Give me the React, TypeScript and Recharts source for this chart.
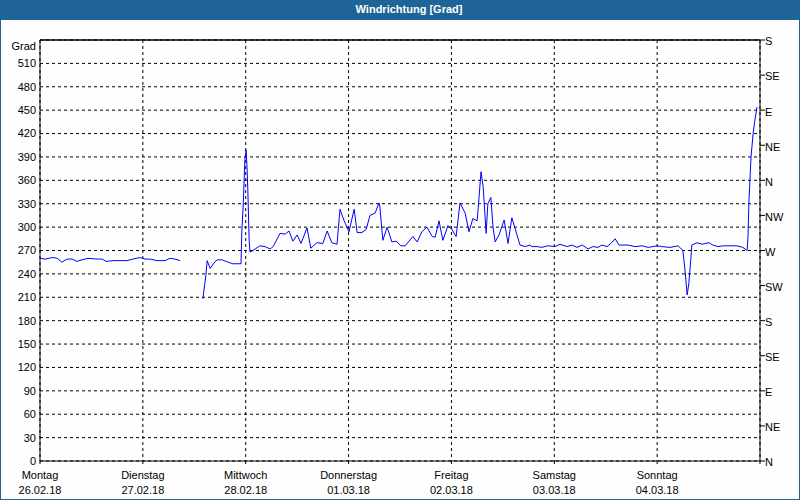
import React from "react";
import { LineChart, Line, XAxis, YAxis, CartesianGrid, ReferenceLine } from "recharts";

// hours since Monday 00:00
const hours: number[] = [
  0, 1.2, 3.0, 4.0, 5.1, 6.3, 7.5, 8.6, 9.8, 11.2, 13.3, 14.5, 15.4, 17.0, 20.3, 21.7, 23.3, 24.5, 25.7, 27.3, 29.2, 30.3, 31.5, 32.7,
  35.0,
  38.0, 38.7, 39.0, 39.7, 40.6, 41.3, 42.5, 43.9, 45.0, 46.9, 47.1, 47.4, 47.8, 48.1, 48.3, 48.5, 48.8, 49.0, 49.7, 51.3, 52.5, 53.7, 54.4,
  56.0, 57.2, 58.1, 59.0, 60.0, 60.9, 62.3, 63.2, 64.6, 66.0, 67.0, 68.1, 69.3, 70.0, 70.9, 72.1, 73.3, 74.0, 75.1, 76.1, 77.0, 78.2,
  79.1, 79.3, 80.0, 81.0, 82.1, 83.1, 84.2, 85.2, 87.0, 88.0, 89.1, 90.3, 91.5, 92.2, 93.1, 94.0, 95.2, 96.1, 97.1, 98.0, 99.2, 100.1,
  101.0, 102.0, 102.4, 102.9, 103.4, 104.1, 104.5, 105.2, 105.7, 106.2, 107.1, 108.3, 109.2, 110.1, 111.3, 112.0, 113.2, 114.3, 114.8,
  116.0, 117.1, 118.5, 120.2, 121.3, 123.0, 124.1, 125.3, 126.5, 127.9, 129.0, 130.2, 131.1, 132.3, 133.2, 134.2, 135.1, 137.2, 138.8,
  140.5, 141.9, 143.0, 144.0, 145.1, 147.0, 148.9, 150.0, 150.5, 151.0, 151.4, 151.9, 152.1, 153.3, 154.5, 155.2, 156.1, 157.0, 158.2,
  159.4, 162.6, 164.0, 165.0, 165.2, 165.4, 165.9, 166.4, 166.8, 167.3,
];

// wind direction in degrees (null = no data)
const degrees: (number | null)[] = [
  260, 259, 261, 260, 255, 259, 259, 256, 258, 260, 259, 259, 256, 257, 257, 259, 261, 259, 259, 257, 257, 260, 259, 257,
  null,
  208, 238, 257, 247, 254, 258, 258, 255, 253, 253, 296, 326, 386, 399, 377, 347, 283, 268, 270, 276, 275, 272, 275,
  292, 291, 295, 282, 290, 279, 299, 273, 280, 279, 295, 280, 278, 323, 309, 294, 323, 293, 293, 297, 315, 318,
  331, 326, 283, 300, 281, 282, 276, 276, 288, 281, 294, 300, 288, 287, 308, 283, 302, 297, 288, 331, 318, 294,
  311, 308, 335, 371, 352, 292, 330, 338, 300, 281, 290, 309, 279, 312, 290, 277, 275, 277, 275,
  275, 274, 276, 275, 278, 275, 277, 274, 277, 272, 275, 274, 277, 275, 279, 285, 277, 277, 275,
  276, 274, 275, 276, 275, 274, 276, 270, 245, 213, 228, 262, 277, 280, 278, 279, 280, 277, 275,
  276, 276, 274, 270, 288, 330, 390, 420, 437, 454,
];

const dayNames: string[] = ["Montag", "Dienstag", "Mittwoch", "Donnerstag", "Freitag", "Samstag", "Sonntag"];
const dayDates: string[] = ["26.02.18", "27.02.18", "28.02.18", "01.03.18", "02.03.18", "03.03.18", "04.03.18"];
const xTicks: number[] = [0, 24, 48, 72, 96, 120, 144, 168];
const leftTicks: number[] = [0, 30, 60, 90, 120, 150, 180, 210, 240, 270, 300, 330, 360, 390, 420, 450, 480, 510, 540];
const rightTicks: number[] = [0, 45, 90, 135, 180, 225, 270, 315, 360, 405, 450, 495, 540];
const directions: string[] = ["N", "NE", "E", "SE", "S", "SW", "W", "NW", "N", "NE", "E", "SE", "S"];

const data = hours.map((h, i) => ({ h, v: degrees[i] }));

const FONT = "'Liberation Sans', Arial, sans-serif";

const XTick = (props: any) => {
  const { x, y, payload } = props;
  const idx = Math.round(payload.value / 24);
  if (idx >= dayNames.length) return null;
  return (
    <g>
      <text x={x} y={y + 15} textAnchor="middle" fontSize={11} fontFamily={FONT} fill="#000">
        {dayNames[idx]}
      </text>
      <text x={x} y={y + 30} textAnchor="middle" fontSize={11} fontFamily={FONT} fill="#000">
        {dayDates[idx]}
      </text>
    </g>
  );
};

const LeftTick = (props: any) => {
  const { x, y, payload } = props;
  const label = payload.value === 540 ? "Grad" : String(payload.value);
  return (
    <text x={x} y={payload.value === 540 ? y + 6 : y} dy="0.355em" textAnchor="end" fontSize={11} fontFamily={FONT} fill="#000">
      {label}
    </text>
  );
};

const RightTick = (props: any) => {
  const { x, y, payload } = props;
  const idx = rightTicks.indexOf(Number(payload.value));
  return (
    <text x={x} y={y + 1.5} dy="0.355em" textAnchor="start" fontSize={11} fontFamily={FONT} fill="#000">
      {idx >= 0 ? directions[idx] : ""}
    </text>
  );
};

export default function App() {
  return (
    <div style={{ position: "absolute", left: 0, top: 0, width: 800, height: 500, background: "#fdfefd" }}>
      <div
        style={{
          position: "absolute",
          left: 0,
          top: 0,
          width: 800,
          height: 20,
          background: "#1e6496",
          color: "#fff",
          fontFamily: FONT,
          fontWeight: "bold",
          fontSize: 11,
        }}
      >
        <div style={{ position: "absolute", left: 409, top: 3, transform: "translateX(-50%)", whiteSpace: "nowrap" }}>
          Windrichtung [Grad]
        </div>
      </div>
      <div style={{ position: "absolute", left: 0, top: 0 }}>
        <LineChart width={800} height={500} data={data} margin={{ top: 40, right: 0, bottom: 0, left: 0 }}>
          <CartesianGrid yAxisId="left" stroke="#000" strokeDasharray="3 3" />
          <XAxis
            dataKey="h"
            type="number"
            domain={[0, 168]}
            ticks={xTicks}
            interval={0}
            height={39}
            tickSize={3}
            tickMargin={0}
            stroke="#000"
            axisLine={{ stroke: "#000" }}
            tickLine={{ stroke: "#000" }}
            tick={<XTick />}
          />
          <YAxis
            yAxisId="left"
            type="number"
            domain={[0, 540]}
            ticks={leftTicks}
            interval={0}
            width={40}
            tickSize={0}
            tickMargin={4}
            tickLine={false}
            axisLine={{ stroke: "#000" }}
            tick={<LeftTick />}
          />
          <YAxis
            yAxisId="right"
            type="number"
            orientation="right"
            domain={[0, 540]}
            allowDataOverflow={true}
            ticks={rightTicks}
            interval={0}
            width={40}
            tickSize={5}
            tickMargin={0}
            tickLine={{ stroke: "#000" }}
            axisLine={{ stroke: "#000" }}
            tick={<RightTick />}
          />
          <ReferenceLine yAxisId="left" y={540} stroke="#000" strokeWidth={1} />
          <ReferenceLine yAxisId="right" y={540} stroke="#000" strokeWidth={1} />
          <Line
            yAxisId="left"
            type="linear"
            dataKey="v"
            stroke="#0000ff"
            strokeWidth={1}
            dot={false}
            connectNulls={false}
            isAnimationActive={false}
          />
        </LineChart>
      </div>
      <div
        style={{
          position: "absolute",
          left: 0,
          top: 0,
          width: 800,
          height: 500,
          boxSizing: "border-box",
          border: "1px solid #1e6496",
          pointerEvents: "none",
        }}
      />
    </div>
  );
}
